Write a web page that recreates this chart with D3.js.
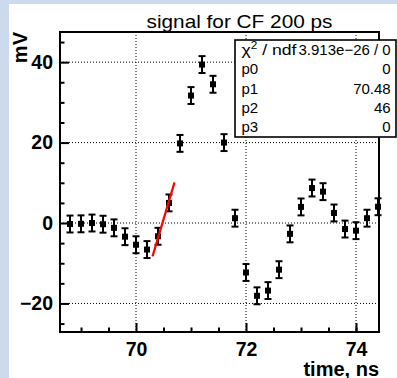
<!DOCTYPE html>
<html>
<head>
<meta charset="utf-8">
<script src="https://cdn.jsdelivr.net/npm/d3@7"></script>
<style>
  html, body { margin: 0; padding: 0; background: #ccd9ef; }
  svg { display: block; }
  text { font-family: "Liberation Sans", Arial, Helvetica, sans-serif; }
</style>
</head>
<body>
<script>
// Sampled waveform (time in ns, amplitude in mV)
const times = [68.8, 69.0, 69.2, 69.4, 69.6, 69.8, 70.0, 70.2, 70.4, 70.6, 70.8,
               71.0, 71.2, 71.4, 71.6, 71.8, 72.0, 72.2, 72.4, 72.6, 72.8,
               73.0, 73.2, 73.4, 73.6, 73.8, 74.0, 74.2, 74.4];
const amplitudes = [-0.25, -0.2, 0.0, -0.3, -1.2, -3.4, -5.4, -6.6, -3.3, 5.0, 19.8,
                    31.7, 39.4, 34.5, 20.0, 1.2, -12.3, -18.1, -16.8, -11.6, -2.7,
                    4.0, 8.7, 7.8, 2.5, -1.5, -1.9, 1.2, 4.05];
const errors = [2.1, 2.1, 2.1, 2.1, 2.1, 2.1, 2.1, 2.1, 2.1, 2.1, 2.1,
                2.1, 2.1, 2.1, 2.1, 2.1, 2.1, 2.1, 2.1, 2.1, 2.1,
                2.1, 2.1, 2.1, 2.1, 2.1, 2.1, 2.1, 2.1];

// Linear fit on the leading edge: p2 * (t - p1) + p0
const fitParams = [0, 70.48, 46, 0];
const fitRange = [70.3, 70.7];
const statNames = ["p0", "p1", "p2", "p3"];
const statValues = ["0", "70.48", "46", "0"];
const chiNdf = "3.913e\u221226 / 0";

const xMajor = [70, 72, 74];
const xMinor = [69, 69.5, 70.5, 71, 71.5, 72.5, 73, 73.5, 74];
const yMajor = [-20, 0, 20, 40];
const yMinor = [-25, -15, -10, -5, 5, 10, 15, 25, 30, 35, 45];

const W = 397, H = 378;
const frame = { left: 60, right: 379, top: 32, bottom: 332 };

const svg = d3.select("body").append("svg").attr("width", W).attr("height", H);

// white canvas pad
svg.append("rect").attr("x", 9).attr("y", 4).attr("width", W - 9).attr("height", H - 4)
  .attr("fill", "#fff");

const x = d3.scaleLinear().domain([68.618, 74.418]).range([frame.left, frame.right]);
const y = d3.scaleLinear().domain([-27.1, 47.5]).range([frame.bottom, frame.top]);

// dotted grid
const grid = svg.append("g").attr("stroke", "#000").attr("stroke-width", 1)
  .attr("stroke-dasharray", "1,2");
grid.selectAll("line.gx").data(xMajor).join("line")
  .attr("x1", d => x(d)).attr("x2", d => x(d))
  .attr("y1", frame.top).attr("y2", frame.bottom);
grid.selectAll("line.gy").data(yMajor).join("line")
  .attr("x1", frame.left).attr("x2", frame.right)
  .attr("y1", d => y(d)).attr("y2", d => y(d));

// axes (ticks pointing inward)
const tickFont = g => g.selectAll("text")
  .attr("font-size", 19.5).attr("font-weight", "bold").attr("fill", "#000")
  .style("font-family", "'Liberation Sans', Arial, sans-serif");

const xAxis = svg.append("g").attr("transform", `translate(0,${frame.bottom})`)
  .call(d3.axisBottom(x).tickValues(xMajor).tickSize(-9).tickPadding(10)
    .tickFormat(d3.format("d")));
xAxis.call(tickFont);
svg.append("g").attr("transform", `translate(0,${frame.bottom})`)
  .call(d3.axisBottom(x).tickValues(xMinor).tickSize(-4.5).tickFormat(""));

const yAxis = svg.append("g").attr("transform", `translate(${frame.left},0)`)
  .call(d3.axisLeft(y).tickValues(yMajor).tickSize(-9).tickPadding(7)
    .tickFormat(d3.format("d")));
yAxis.call(tickFont);
svg.append("g").attr("transform", `translate(${frame.left},0)`)
  .call(d3.axisLeft(y).tickValues(yMinor).tickSize(-4.5).tickFormat(""));

svg.selectAll(".domain").remove();
svg.selectAll(".tick line").attr("stroke", "#000").attr("stroke-width", 2);

// frame
svg.append("rect")
  .attr("x", frame.left).attr("y", frame.top)
  .attr("width", frame.right - frame.left).attr("height", frame.bottom - frame.top)
  .attr("fill", "none").attr("stroke", "#000").attr("stroke-width", 2);

// data points with error bars
const pts = times.map((t, i) => ({ t, v: amplitudes[i], e: errors[i] }));
const pg = svg.append("g").attr("stroke", "#000").attr("stroke-width", 2);
const cap = 3.5;
pts.forEach(p => {
  const cx = x(p.t), y1 = y(p.v - p.e), y2 = y(p.v + p.e);
  pg.append("line").attr("x1", cx).attr("x2", cx).attr("y1", y1).attr("y2", y2);
  pg.append("line").attr("x1", cx - cap).attr("x2", cx + cap).attr("y1", y1).attr("y2", y1);
  pg.append("line").attr("x1", cx - cap).attr("x2", cx + cap).attr("y1", y2).attr("y2", y2);
});
svg.append("g").selectAll("rect").data(pts).join("rect")
  .attr("x", d => x(d.t) - 3).attr("y", d => y(d.v) - 3)
  .attr("width", 6).attr("height", 6).attr("fill", "#000");

// fit line
const fitFn = t => fitParams[2] * (t - fitParams[1]) + fitParams[0];
svg.append("line")
  .attr("x1", x(fitRange[0])).attr("y1", y(fitFn(fitRange[0])))
  .attr("x2", x(fitRange[1])).attr("y2", y(fitFn(fitRange[1])))
  .attr("stroke", "#ff0000").attr("stroke-width", 2.2);

// statistics box
const box = { x: 235, y: 40, w: 161, h: 97 };
svg.append("rect").attr("x", box.x).attr("y", box.y).attr("width", box.w).attr("height", box.h)
  .attr("fill", "#fff").attr("stroke", "#000").attr("stroke-width", 1.6);
const rowH = box.h / 5;
const rows = [{ name: null, val: chiNdf }].concat(statNames.map((n, i) => ({ name: n, val: statValues[i] })));
rows.forEach((r, i) => {
  const by = box.y + rowH * (i + 0.76);
  const tl = svg.append("text").attr("x", 241.5).attr("y", by).attr("font-size", 15).attr("fill", "#000");
  if (r.name === null) {
    tl.attr("textLength", 55).attr("lengthAdjust", "spacingAndGlyphs");
    tl.append("tspan").text("\u03c7");
    tl.append("tspan").attr("font-size", 10).attr("dy", -6).text("2");
    tl.append("tspan").attr("dy", 6).text(" / ndf");
  } else {
    tl.text(r.name);
  }
  svg.append("text").attr("x", 390.7).attr("y", by).attr("text-anchor", "end")
    .attr("font-size", 15).attr("fill", "#000").text(r.val);
});

// title
svg.append("text").attr("x", 239.5).attr("y", 28.3).attr("text-anchor", "middle")
  .attr("font-size", 19).attr("textLength", 186).attr("lengthAdjust", "spacingAndGlyphs")
  .attr("fill", "#000").text("signal for CF 200 ps");

// axis titles
svg.append("text").attr("x", frame.right).attr("y", 375.5).attr("text-anchor", "end")
  .attr("font-size", 20).attr("font-weight", "bold").attr("fill", "#000").text("time, ns");
svg.append("text").attr("transform", `translate(27,${frame.top}) rotate(-90)`)
  .attr("text-anchor", "end")
  .attr("font-size", 20).attr("font-weight", "bold").attr("fill", "#000").text("mV");
</script>
</body>
</html>
